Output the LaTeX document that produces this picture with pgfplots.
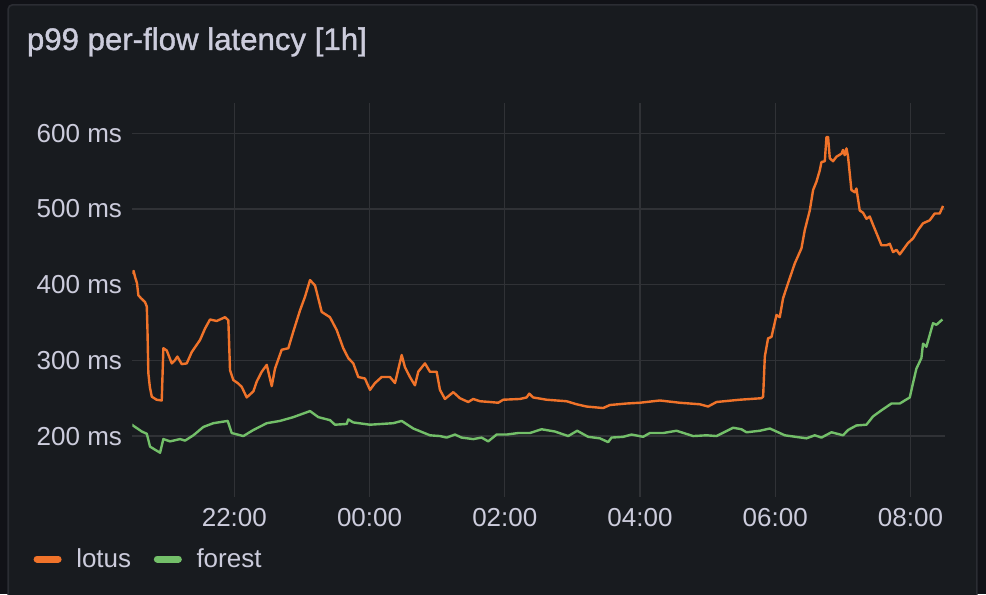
\documentclass[border=0pt]{standalone}
\usepackage{pgfplots}
\pgfplotsset{compat=1.18}
\usepackage{fontspec}
\setmainfont{Liberation Sans}
\newfontfamily\titlefont[FakeBold=1.2]{Liberation Sans}
\definecolor{outerbg}{HTML}{111217}
\definecolor{panelbg}{HTML}{181B1F}
\definecolor{panelborder}{HTML}{2B2D33}
\definecolor{gridc}{HTML}{303236}
\definecolor{txt}{HTML}{CCCCDC}
\definecolor{lotus}{HTML}{F0732A}
\definecolor{forest}{HTML}{73BF69}
\newcommand{\ticksize}{\fontsize{19.5}{22}\selectfont}
\newcommand{\titlesize}{\fontsize{23.4}{26}\selectfont}

\pgfplotstableread{
h v
-3.517 415
-3.49 418
-3.468 410
-3.44 402
-3.420 386
-3.38 382
-3.321 377
-3.295 371
-3.285 340
-3.272 283
-3.25 265
-3.221 252
-3.15 248
-3.074 247
-3.050 316
-3.000 313
-2.926 296
-2.88 300
-2.843 305
-2.778 295
-2.704 296
-2.630 311
-2.507 327
-2.434 342
-2.360 354
-2.261 352
-2.138 357
-2.089 353
-2.064 287
-2.016 274
-1.95 270
-1.891 265
-1.817 251
-1.719 259
-1.669 272
-1.595 285
-1.521 294
-1.447 266
-1.399 289
-1.300 314
-1.202 316
-1.128 338
-1.029 366
-0.955 384
-0.881 406
-0.807 399
-0.708 364
-0.586 357
-0.486 340
-0.389 316
-0.315 303
-0.241 296
-0.167 278
-0.068 276
0.006 261
0.080 270
0.179 278
0.302 278
0.376 270
0.475 307
0.523 291
0.597 278
0.671 267
0.720 285
0.819 296
0.893 285
0.992 285
1.041 261
1.115 249
1.238 258
1.336 250
1.459 245
1.533 249
1.632 246
1.780 245
1.903 244
1.977 248
2.224 249
2.323 251
2.361 256
2.420 251
2.618 248
2.914 246
3.062 242
3.210 239
3.455 237
3.554 241
3.801 243
3.998 244
4.293 247
4.589 244
4.885 242
5.007 239
5.132 245
5.476 248
5.797 250
5.821 252
5.846 305
5.894 329
5.945 331
6.019 360
6.067 357
6.116 382
6.190 402
6.289 428
6.388 448
6.437 472
6.511 498
6.560 525
6.610 536
6.659 551
6.684 562
6.733 563
6.758 595
6.782 595
6.807 567
6.855 563
6.905 569
6.980 573
7.003 578
7.028 571
7.054 580
7.077 569
7.127 525
7.176 522
7.201 527
7.250 498
7.299 495
7.349 487
7.398 490
7.447 479
7.521 463
7.571 452
7.645 452
7.694 454
7.743 443
7.793 446
7.842 440
7.891 446
7.964 455
8.038 461
8.112 472
8.186 481
8.285 485
8.359 494
8.433 494
8.482 504
}\lotusdata

\pgfplotstableread{
h v
-3.517 215
-3.369 206
-3.295 203
-3.247 186
-3.173 182
-3.099 178
-3.050 196
-2.951 193
-2.803 196
-2.729 194
-2.606 201
-2.459 212
-2.311 217
-2.098 220
-2.039 204
-1.867 200
-1.719 208
-1.521 217
-1.325 220
-1.128 225
-0.881 233
-0.758 225
-0.585 221
-0.512 215
-0.339 216
-0.315 222
-0.241 218
0.006 215
0.350 217
0.475 220
0.646 210
0.893 201
1.041 200
1.140 198
1.263 202
1.361 198
1.533 196
1.657 198
1.755 193
1.879 202
2.027 202
2.198 204
2.371 204
2.544 209
2.741 206
2.938 200
3.071 207
3.233 199
3.406 197
3.529 192
3.579 198
3.751 199
3.875 202
4.046 199
4.145 204
4.342 204
4.540 207
4.786 200
4.984 201
5.132 200
5.377 211
5.501 209
5.575 205
5.772 207
5.920 210
6.141 201
6.462 197
6.585 201
6.684 198
6.832 205
7.003 201
7.077 208
7.201 214
7.349 215
7.447 226
7.571 234
7.719 243
7.842 243
7.990 251
8.038 270
8.088 289
8.162 303
8.186 322
8.236 318
8.334 349
8.384 347
8.473 354
}\forestdata

\begin{document}
\begin{tikzpicture}
\path[use as bounding box] (0pt,0pt) rectangle (739.5pt,445.5pt);
\clip (0pt,0pt) rectangle (739.5pt,445.5pt);
\fill[outerbg] (0pt,0pt) rectangle (739.5pt,445.5pt);
\draw[panelborder, fill=panelbg, line width=1.2pt, rounded corners=3pt] (6.2pt,-20pt) rectangle (732.6pt,441.8pt);
\node[anchor=base west, inner sep=0pt, text=txt, font=\titlefont\titlesize] at (20.0pt,408pt) {p99 per-flow latency [1h]};
\begin{axis}[
  at={(99.2pt,72.75pt)}, anchor=south west,
  width=609.5pt, height=295.3pt, scale only axis,
  xmin=-3.51, xmax=8.51, ymin=119.5, ymax=639.6,
  axis line style={draw=none}, tick style={draw=none}, major tick length=0pt,
  xtick={-2,0,2,4,6,8}, xticklabels={22:00,00:00,02:00,04:00,06:00,08:00},
  ytick={200,300,400,500,600}, yticklabels={200 ms,300 ms,400 ms,500 ms,600 ms},
  grid=major, major grid style={draw=gridc, line width=0.9pt},
  ticklabel style={font=\ticksize, text=txt, inner sep=0pt},
  yticklabel style={anchor=east, xshift=-7.5pt},
  xticklabel style={anchor=north, yshift=-8.5pt},
  /pgf/number format/assume math mode=true,
  legend columns=2,
  legend image code/.code={\draw[#1, line width=5.25pt, line cap=round] (0pt,0pt) -- (15.75pt,0pt);},
  legend style={at={(0,0)}, anchor=west, xshift=-74pt, yshift=-46.5pt,
    draw=none, fill=none, inner sep=0pt, outer sep=0pt,
    font=\ticksize, text=txt, nodes={inner sep=0pt},
    /tikz/every odd column/.append style={column sep=11pt},
    /tikz/every even column/.append style={column sep=17pt}},
]
\addplot[lotus, line width=1.8pt, line join=round] table[x=h, y=v] {\lotusdata};
\addlegendentry{lotus}
\addplot[forest, line width=1.8pt, line join=round] table[x=h, y=v] {\forestdata};
\addlegendentry{forest}
\end{axis}
\end{tikzpicture}
\end{document}
